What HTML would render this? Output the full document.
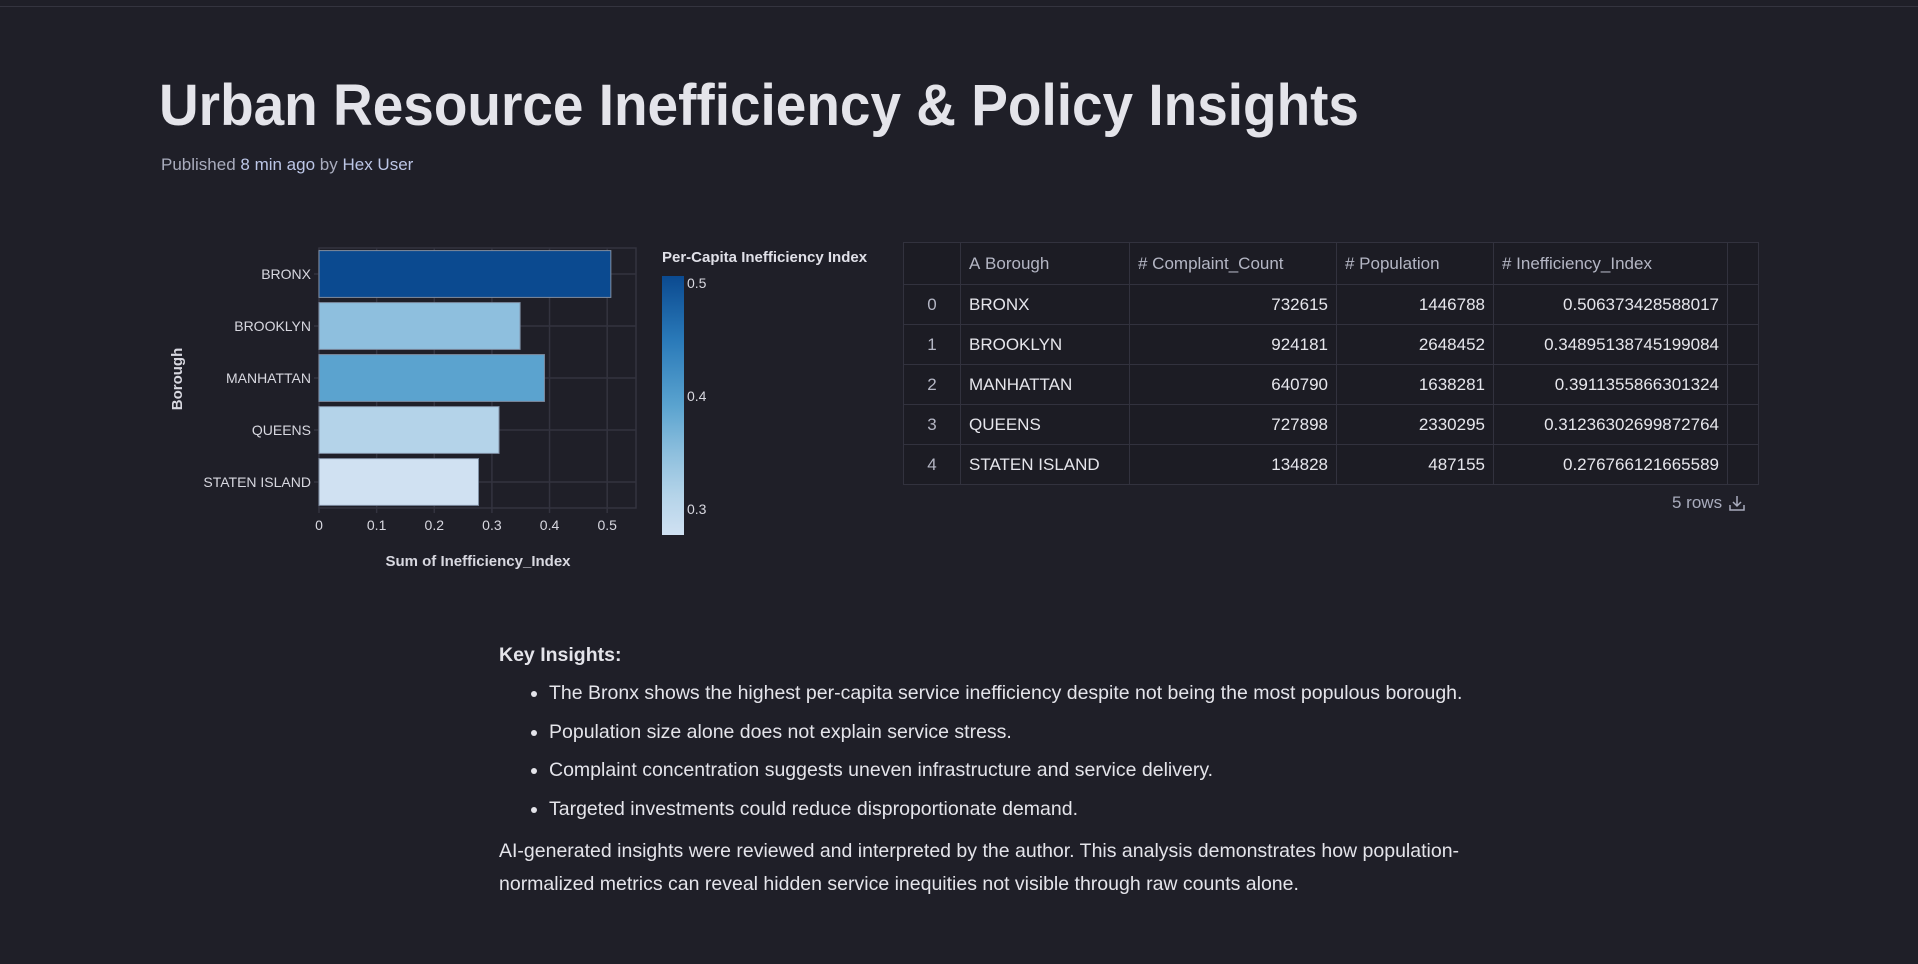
<!DOCTYPE html>
<html><head><meta charset="utf-8">
<style>
html,body{margin:0;padding:0;background:#1f1f28;width:1918px;height:964px;overflow:hidden;font-family:"Liberation Sans",sans-serif;color:#e4e4ea}
.abs{position:absolute}
#topline{left:0;top:6px;width:1918px;height:1px;background:#34343f}
#meta{left:161px;top:155px;font-size:17px;color:#a9acbd;white-space:nowrap}
#meta b{font-weight:normal;color:#bcc6e6}
table{border-collapse:collapse;position:absolute;left:903px;top:242px;font-size:17px;color:#e6e6ec}
td,th{border:1px solid #32323e;height:39px;padding:0 8px;white-space:nowrap}
th{font-weight:normal;color:#b4b6c4;text-align:left;height:41px;background:#1c1c24}
td{background:#1c1c24}
.num{text-align:right}
.idx{text-align:center;color:#b4b6c4}
#rows{left:1672px;top:493px;font-size:17px;color:#a9acbd;display:flex;align-items:center;gap:6px}
#insights{left:499px;top:644px;font-size:19.5px;color:#e4e4ea;width:1040px}
#insights ul{margin:14px 0 0 0;padding-left:50px}
#insights li{height:38.5px;line-height:24px}
#insights p{margin:0;line-height:33px}
</style></head><body>
<div class="abs" id="topline"></div>
<svg class="abs" style="left:0;top:0" width="1400" height="140">
<text x="159" y="125" font-size="58" font-weight="bold" fill="#e4e4ea" textLength="1200" lengthAdjust="spacingAndGlyphs" font-family="Liberation Sans, sans-serif">Urban Resource Inefficiency &amp; Policy Insights</text>
</svg>
<div class="abs" id="meta">Published <b>8 min ago</b> by <b>Hex User</b></div>

<svg id="chart" class="abs" style="left:0;top:0" width="900" height="600"></svg>

<table>
<tr><th style="width:40px"></th><th style="width:152px">A&nbsp;Borough</th><th style="width:190px"># Complaint_Count</th><th style="width:140px"># Population</th><th style="width:217px"># Inefficiency_Index</th><th style="width:14px"></th></tr>
<tr><td class="idx">0</td><td>BRONX</td><td class="num">732615</td><td class="num">1446788</td><td class="num">0.506373428588017</td><td></td></tr>
<tr><td class="idx">1</td><td>BROOKLYN</td><td class="num">924181</td><td class="num">2648452</td><td class="num">0.34895138745199084</td><td></td></tr>
<tr><td class="idx">2</td><td>MANHATTAN</td><td class="num">640790</td><td class="num">1638281</td><td class="num">0.3911355866301324</td><td></td></tr>
<tr><td class="idx">3</td><td>QUEENS</td><td class="num">727898</td><td class="num">2330295</td><td class="num">0.31236302699872764</td><td></td></tr>
<tr><td class="idx">4</td><td>STATEN ISLAND</td><td class="num">134828</td><td class="num">487155</td><td class="num">0.276766121665589</td><td></td></tr>
</table>
<div class="abs" id="rows">5 rows <svg width="18" height="18" viewBox="0 0 18 18"><path d="M9 2v10M5 8l4 4 4-4M2 11v5h14v-5" fill="none" stroke="#a9acbd" stroke-width="1.5"/></svg></div>

<div class="abs" id="insights">
<b>Key Insights:</b>
<ul>
<li>The Bronx shows the highest per-capita service inefficiency despite not being the most populous borough.</li>
<li>Population size alone does not explain service stress.</li>
<li>Complaint concentration suggests uneven infrastructure and service delivery.</li>
<li>Targeted investments could reduce disproportionate demand.</li>
</ul>
<p>AI-generated insights were reviewed and interpreted by the author. This analysis demonstrates how population-normalized metrics can reveal hidden service inequities not visible through raw counts alone.</p>
</div>

<script>
const categories = ["BRONX","BROOKLYN","MANHATTAN","QUEENS","STATEN ISLAND"];
const values = [0.506373428588017,0.34895138745199084,0.3911355866301324,0.31236302699872764,0.276766121665589];
const xTicks = [0,0.1,0.2,0.3,0.4,0.5];
const legendTicks = [0.5,0.4,0.3];

const NS="http://www.w3.org/2000/svg";
const svg=document.getElementById('chart');
const L=319,R=636,T=248,B=508,XMAX=0.55;
const x=v=>L+(v/XMAX)*(R-L);
const band=(B-T)/categories.length;
const y=i=>T+i*band;
const vmin=Math.min(...values), vmax=Math.max(...values);
const stops=[[0,[208,225,242]],[0.15,[181,212,233]],[0.31,[143,192,222]],[0.5,[90,163,207]],[0.75,[42,122,185]],[1,[11,74,144]]];
function color(v){const t=(v-vmin)/(vmax-vmin);for(let i=1;i<stops.length;i++){if(t<=stops[i][0]){const a=stops[i-1],b=stops[i],f=(t-a[0])/(b[0]-a[0]);const c=a[1].map((q,k)=>Math.round(q+(b[1][k]-q)*f));return `rgb(${c.join(',')})`;}}return 'rgb(11,74,144)';}
function mk(tag,attrs,text){const e=document.createElementNS(NS,tag);for(const k in attrs)e.setAttribute(k,attrs[k]);if(text!==undefined)e.textContent=text;svg.appendChild(e);return e;}
const font='Liberation Sans, sans-serif';
let fr=mk('rect',{x:L,y:T,width:R-L,height:B-T,fill:'none',stroke:'#33333f','stroke-width':1.5});


xTicks.forEach(t=>{
  const g=mk('line',{x1:x(t),x2:x(t),y1:T,y2:B+5,stroke:'#33333f','stroke-width':1.5});
  
  
  const lb=mk('text',{x:x(t),y:B+22,'text-anchor':'middle','font-size':14,fill:'#d8d8e0','font-family':font},String(t));
  
  
});
categories.forEach((c,i)=>{
  const cy=y(i)+band/2;
  const g=mk('line',{x1:L-5,x2:R,y1:cy,y2:cy,stroke:'#33333f','stroke-width':1.5});
  
  
  const lb=mk('text',{x:L-8,y:cy+5,'text-anchor':'end','font-size':14,fill:'#d8d8e0','font-family':font},c);
  
  
  const b=mk('rect',{x:x(0),y:y(i)+band*0.05,width:x(values[i])-x(0),height:band*0.9,fill:color(values[i]),stroke:'#7f8ea3','stroke-width':1});
  
  
});
let xt=mk('text',{x:478,y:566,'text-anchor':'middle','font-size':15,'font-weight':'bold',fill:'#d8d8e0','font-family':font},'Sum of Inefficiency_Index');


let yt=mk('text',{x:0,y:0,'text-anchor':'middle','font-size':15,'font-weight':'bold',fill:'#d8d8e0','font-family':font,transform:'translate(182,379) rotate(-90)'},'Borough');


const defs=mk('defs',{});
const lg=document.createElementNS(NS,'linearGradient');
lg.setAttribute('id','lgrad');lg.setAttribute('x1','0');lg.setAttribute('y1','1');lg.setAttribute('x2','0');lg.setAttribute('y2','0');
stops.forEach(s=>{const st=document.createElementNS(NS,'stop');st.setAttribute('offset',s[0]);st.setAttribute('stop-color',`rgb(${s[1].join(',')})`);lg.appendChild(st);});
defs.appendChild(lg);
const LT=276,LB=535;
const ly=v=>LB-(v-vmin)/(vmax-vmin)*(LB-LT);
let lt=mk('text',{x:662,y:262,'font-size':15,'font-weight':'bold',fill:'#e0e0e8','font-family':font},'Per-Capita Inefficiency Index');


let lr=mk('rect',{x:662,y:LT,width:22,height:LB-LT,fill:'url(#lgrad)'});


legendTicks.forEach(t=>{
  const lb=mk('text',{x:687,y:ly(t)+5,'font-size':14,fill:'#d8d8e0','font-family':font},String(t));
  
  
});
</script>
</body></html>
